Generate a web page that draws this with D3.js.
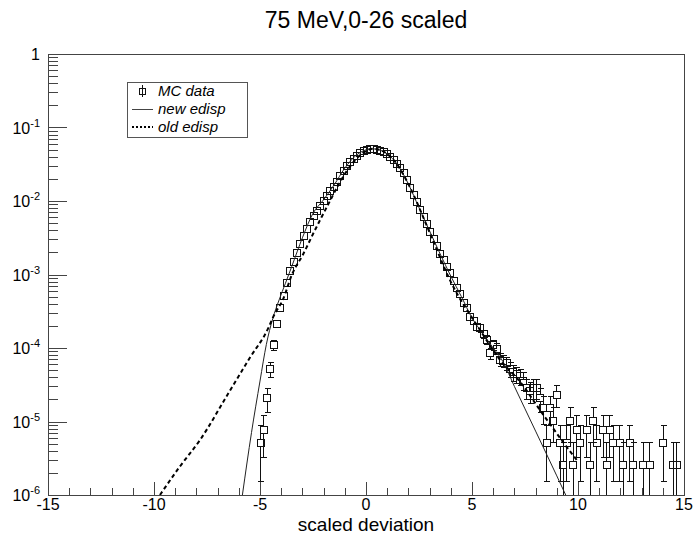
<!doctype html>
<html>
<head>
<meta charset="utf-8">
<style>
  body { margin: 0; background: #fff; }
  svg { display: block; }
  text { font-family: "Liberation Sans", Arial, sans-serif; fill: #000; }
</style>
</head>
<body>
<div class="chart"></div>
<script src="https://d3js.org/d3.v7.min.js"></script>
<script>
// ---- data ----
// histogram: first bin centre, bin width, entries per bin, weight of one entry
const binStart = -5.0;
const binWidth = 0.157;
const entryWeight = 2.62e-6;
const counts = [
  2, 3, 8, 20, 42, 82, 136, 200, 296, 429,
  578, 762, 993, 1279, 1611, 1982, 2410, 2864, 3365, 3936,
  4592, 5333, 6053, 7079, 8472, 9977, 11535, 13122, 14622, 16069,
  17298, 18323, 19055, 19498, 19588, 19320, 18750, 17865, 16711, 15382,
  13900, 12359, 10765, 9247, 7447, 5916, 4699, 3733, 2965, 2355,
  1871, 1486, 1180, 938, 745, 605, 492, 410, 318, 258,
  212, 158, 136, 104, 90, 76, 72, 60, 50, 33,
  42, 38, 27, 26, 24, 20, 18, 17, 16, 14,
  11, 10, 11, 11, 8, 6, 2, 6, 4, 9,
  2, 1, 2, 4, 1, 3, 2, 0, 3, 1,
  4, 2, 0, 3, 1, 3, 2, 0, 2, 1,
  0, 2, 1, 0, 0, 1, 0, 1, 0, 0,
  0, 2, 0, 0, 1, 1
];

// new edisp (solid)
const newX = [-5.83, -5.4, -5.0, -4.7, -4.4, -4.1, -3.8, -3.5, -3.0, -2.5, -2.0, -1.5, -1.0, -0.5, 0, 0.3, 0.6, 1.0, 1.5, 2.0, 2.5, 3.0, 3.5, 4.0, 4.5, 5.0, 5.5, 6.0, 6.45, 7.0, 8.0, 9.0, 9.42];
const newY = [1.0e-6, 7.1e-6, 3.55e-5, 1.12e-4, 2.5e-4, 4.5e-4, 7.6e-4, 1.29e-3, 3.16e-3, 6.8e-3, 1.04e-2, 1.66e-2, 2.8e-2, 4.1e-2, 4.97e-2, 5.13e-2, 4.98e-2, 4.37e-2, 3.09e-2, 1.7e-2, 8.1e-3, 3.9e-3, 1.9e-3, 9.5e-4, 5.0e-4, 2.57e-4, 1.58e-4, 1.0e-4, 6.6e-5, 3.0e-5, 7.4e-6, 1.82e-6, 1.0e-6];

// old edisp (dashed)
const oldX = [-9.72, -8.8, -7.83, -6.5, -5.5, -4.61, -4.37, -3.9, -3.49, -2.96, -2.5, -2.1, -1.7, -1.3, -0.9, -0.5, 0, 0.35, 0.7, 1.0, 1.5, 2.0, 3.02, 3.96, 5.377, 6.32, 7.264, 8.208, 8.995, 9.467, 9.94];
const oldY = [1.0e-6, 2.4e-6, 5.6e-6, 2.4e-5, 7.2e-5, 1.86e-4, 2.67e-4, 4.7e-4, 1.0e-3, 1.9e-3, 3.55e-3, 6.0e-3, 1.0e-2, 1.66e-2, 2.57e-2, 3.63e-2, 4.79e-2, 5.13e-2, 4.9e-2, 4.37e-2, 3.05e-2, 1.7e-2, 3.63e-3, 8.4e-4, 1.76e-4, 6.9e-5, 3.48e-5, 1.43e-5, 6.9e-6, 4.5e-6, 3.0e-6];

const xMajor = [-15, -10, -5, 0, 5, 10, 15];
const yExponents = [0, -1, -2, -3, -4, -5, -6];
const legendLabels = ["MC data", "new edisp", "old edisp"];
const titleText = "75 MeV,0-26 scaled";
const xTitle = "scaled deviation";

// ---- layout ----
let width = 696, height = 539;
let frame = { left: 48, right: 684, top: 54, bottom: 495 };

let svg = d3.select(".chart").append("svg")
  .attr("width", width)
  .attr("height", height);

let scaleX = d3.scaleLinear().domain([-15, 15]).range([frame.left, frame.right]);
let scaleY = d3.scaleLog().domain([1e-6, 1]).range([frame.bottom, frame.top]);

svg.append("clipPath").attr("id", "plot")
  .append("rect")
  .attr("x", frame.left).attr("y", frame.top)
  .attr("width", frame.right - frame.left)
  .attr("height", frame.bottom - frame.top);

// frame
svg.append("rect")
  .attr("x", frame.left + 0.5).attr("y", frame.top + 0.5)
  .attr("width", frame.right - frame.left)
  .attr("height", frame.bottom - frame.top)
  .attr("fill", "none").attr("stroke", "#444")
  .attr("shape-rendering", "crispEdges");

// x ticks (inside, pointing up)
let xMinor = d3.range(-15, 16, 1);
let xAxisG = svg.append("g").attr("stroke", "#444").attr("shape-rendering", "crispEdges");
xMinor.forEach(v => {
  let len = xMajor.includes(v) ? 13 : 7;
  let px = Math.round(scaleX(v)) + 0.5;
  xAxisG.append("line")
    .attr("x1", px).attr("x2", px)
    .attr("y1", frame.bottom).attr("y2", frame.bottom - len);
});
svg.append("g").selectAll("text").data(xMajor).join("text")
  .attr("x", d => scaleX(d))
  .attr("y", 510)
  .attr("text-anchor", "middle")
  .attr("font-size", 16)
  .text(d => d);

// y ticks (inside, pointing right)
let yAxisG = svg.append("g").attr("stroke", "#444").attr("shape-rendering", "crispEdges");
yExponents.forEach(e => {
  let base = Math.pow(10, e);
  let py = Math.round(scaleY(base)) + 0.5;
  yAxisG.append("line")
    .attr("x1", frame.left).attr("x2", frame.left + 19)
    .attr("y1", py).attr("y2", py);
  if (e > -6) {
    for (let m = 2; m <= 9; m++) {
      let pm = Math.round(scaleY(base * m / 10)) + 0.5;
      yAxisG.append("line")
        .attr("x1", frame.left).attr("x2", frame.left + 10)
        .attr("y1", pm).attr("y2", pm);
    }
  }
});
let yLab = svg.append("g").selectAll("text").data(yExponents).join("text")
  .attr("x", 40)
  .attr("y", d => scaleY(Math.pow(10, d)) + 6)
  .attr("text-anchor", "end")
  .attr("font-size", 16);
yLab.each(function(d) {
  let t = d3.select(this);
  if (d === 0) { t.text("1"); return; }
  t.append("tspan").text("10");
  t.append("tspan").attr("font-size", 11).attr("dy", -7).text(d);
});

// titles
svg.append("text")
  .attr("x", (frame.left + frame.right) / 2).attr("y", 28)
  .attr("text-anchor", "middle").attr("font-size", 23)
  .text(titleText);
svg.append("text")
  .attr("x", (frame.left + frame.right) / 2).attr("y", 531)
  .attr("text-anchor", "middle").attr("font-size", 19)
  .text(xTitle);

// ---- histogram points ----
let plot = svg.append("g").attr("clip-path", "url(#plot)");
let bins = [];
counts.forEach((n, i) => {
  if (n > 0) bins.push({
    x: binStart + i * binWidth,
    y: n * entryWeight,
    hi: (n + Math.sqrt(n)) * entryWeight,
    lo: (n - Math.sqrt(n)) * entryWeight
  });
});

let ms = 3.5; // half marker size
let errG = plot.append("g").attr("stroke", "#111").attr("stroke-width", 1)
  .attr("shape-rendering", "crispEdges");
bins.forEach(b => {
  let px = Math.round(scaleX(b.x)) + 0.5;
  let py = scaleY(b.y);
  let pHi = scaleY(b.hi);
  let pLo = b.lo > 1e-7 ? scaleY(b.lo) : frame.bottom + 5;
  if (pHi < py - ms) {
    errG.append("line").attr("x1", px).attr("x2", px).attr("y1", pHi).attr("y2", py - ms);
    errG.append("line").attr("x1", px - 3).attr("x2", px + 3).attr("y1", Math.round(pHi) + 0.5).attr("y2", Math.round(pHi) + 0.5);
  }
  if (pLo > py + ms) {
    errG.append("line").attr("x1", px).attr("x2", px).attr("y1", py + ms).attr("y2", pLo);
    errG.append("line").attr("x1", px - 3).attr("x2", px + 3).attr("y1", Math.round(pLo) + 0.5).attr("y2", Math.round(pLo) + 0.5);
  }
});
plot.append("g").selectAll("rect").data(bins).join("rect")
  .attr("x", d => Math.round(scaleX(d.x) - ms) + 0.5)
  .attr("y", d => Math.round(scaleY(d.y) - ms) + 0.5)
  .attr("width", 2 * ms).attr("height", 2 * ms)
  .attr("fill", "none").attr("stroke", "#111").attr("stroke-width", 1)
  .attr("shape-rendering", "crispEdges");

// ---- functions ----
let lineF = d3.line()
  .x(d => scaleX(d[0]))
  .y(d => scaleY(d[1]))
  .curve(d3.curveMonotoneX);

plot.append("path")
  .attr("d", lineF(newX.map((x, i) => [x, newY[i]])))
  .attr("fill", "none").attr("stroke", "#222").attr("stroke-width", 1);

plot.append("path")
  .attr("d", lineF(oldX.map((x, i) => [x, oldY[i]])))
  .attr("fill", "none").attr("stroke", "#000").attr("stroke-width", 2)
  .attr("stroke-dasharray", "4,3");

// ---- legend ----
let leg = svg.append("g");
leg.append("rect")
  .attr("x", 127.5).attr("y", 82.5).attr("width", 120).attr("height", 55)
  .attr("fill", "#fff").attr("stroke", "#555").attr("shape-rendering", "crispEdges");
let rowY = [91, 109, 127];
// marker sample
leg.append("line").attr("x1", 142.5).attr("x2", 142.5).attr("y1", rowY[0] - 6).attr("y2", rowY[0] + 6)
  .attr("stroke", "#111").attr("shape-rendering", "crispEdges");
leg.append("rect").attr("x", 139.5).attr("y", rowY[0] - 2.5).attr("width", 6).attr("height", 6)
  .attr("fill", "none").attr("stroke", "#111").attr("shape-rendering", "crispEdges");
leg.append("line").attr("x1", 132).attr("x2", 153).attr("y1", rowY[1] + 0.5).attr("y2", rowY[1] + 0.5)
  .attr("stroke", "#444").attr("stroke-width", 1);
leg.append("line").attr("x1", 132).attr("x2", 153).attr("y1", rowY[2]).attr("y2", rowY[2])
  .attr("stroke", "#000").attr("stroke-width", 2).attr("stroke-dasharray", "2,2");
leg.selectAll("text.lab").data(legendLabels).join("text")
  .attr("class", "lab")
  .attr("x", 158).attr("y", (d, i) => rowY[i] + 5)
  .attr("font-size", 15).attr("font-style", "italic")
  .text(d => d);
</script>
</body>
</html>
